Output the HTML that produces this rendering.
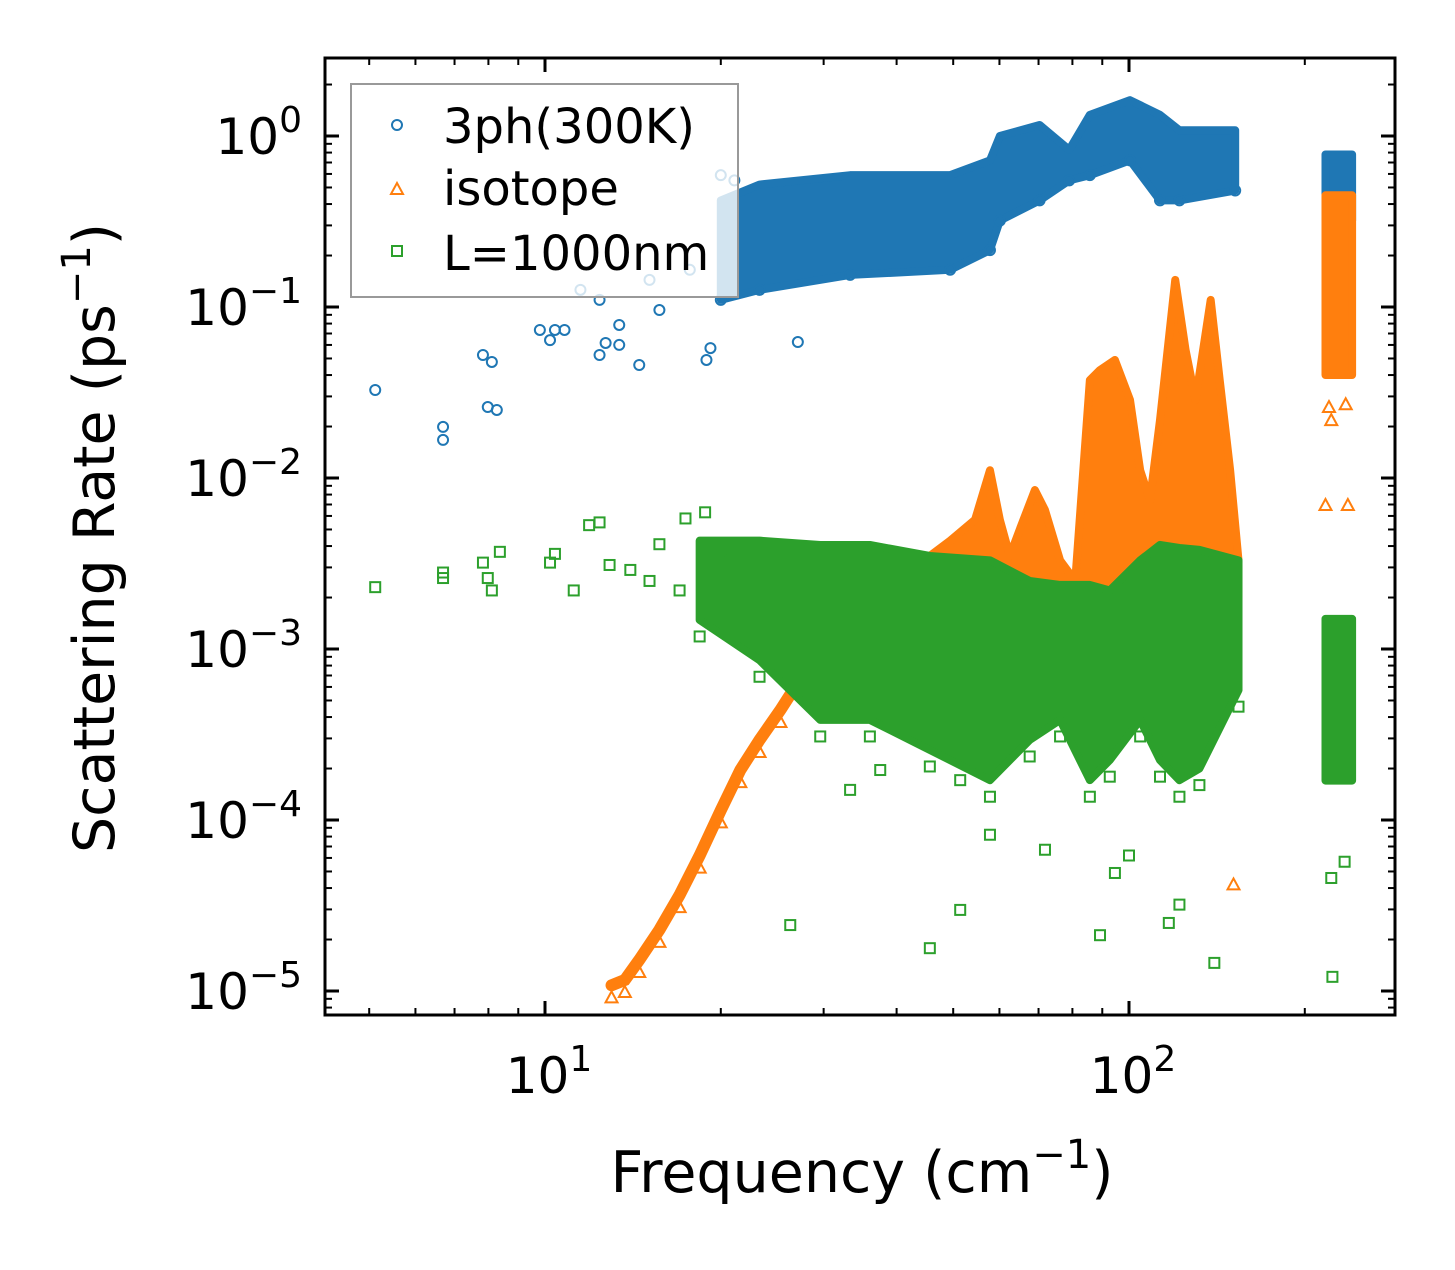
<!DOCTYPE html>
<html><head><meta charset="utf-8"><style>
html,body{margin:0;padding:0;background:#fff;}
svg text{font-family:"DejaVu Sans","Liberation Sans",sans-serif;fill:#000;}
</style></head><body>
<svg id="chart" width="1455" height="1265" viewBox="0 0 1455 1265" xmlns="http://www.w3.org/2000/svg">
<rect width="1455" height="1265" fill="#fff"/>
<defs><clipPath id="plotclip"><rect x="325" y="58" width="1070" height="957"/></clipPath></defs>
<g id="series" clip-path="url(#plotclip)"></g>
<g id="axes"></g>
<g id="legend">
  <rect x="351" y="84" width="387" height="213" fill="rgba(255,255,255,0.8)" stroke="#999" stroke-width="2"/>
  <g>
    <circle cx="397" cy="125" r="5" fill="none" stroke="#1f77b4" stroke-width="2"/>
    <text x="443" y="143" font-size="48">3ph(300K)</text>
  </g>
  <g>
    <path d="M397,183 L403,194 L391,194 Z" fill="none" stroke="#ff7f0e" stroke-width="2"/>
    <text x="443" y="205" font-size="48">isotope</text>
  </g>
  <g>
    <rect x="392" y="246" width="10" height="10" fill="none" stroke="#2ca02c" stroke-width="2"/>
    <text x="443" y="270" font-size="48">L=1000nm</text>
  </g>
</g>
<text x="862" y="1192" font-size="57" text-anchor="middle">Frequency (cm<tspan dy="-24" font-size="40">−1</tspan><tspan dy="24">)</tspan></text>
<text transform="translate(114,538) rotate(-90)" font-size="57" text-anchor="middle">Scattering Rate (ps<tspan dy="-24" font-size="40">−1</tspan><tspan dy="24">)</tspan></text>
</svg>
<script>
// ---- data ----
const blueSparseFreq = [5.12,6.69,6.69,7.83,7.98,8.11,8.27,10.2,10.4,10.8,12.4,12.7,13.4,14.5,18.9,19.2,27.1,12.4,11.5,15.1,15.7,13.4,9.8,17.7,20,21.1];
const blueSparseRate = [0.0327,0.0199,0.0167,0.0524,0.026,0.0477,0.025,0.064,0.0734,0.0734,0.0524,0.0616,0.060,0.0458,0.049,0.0575,0.0624,0.11,0.126,0.144,0.096,0.0785,0.0734,0.165,0.59,0.55];
const blueBandFreq = [20,23.3,33.3,49.4,57.8,60.1,70.3,79,85.7,100.4,113,122,152];
const blueBandLo = [0.11,0.126,0.154,0.165,0.215,0.32,0.42,0.55,0.59,0.72,0.42,0.42,0.48];
const blueBandHi = [0.42,0.52,0.59,0.59,0.72,1.0,1.16,0.83,1.33,1.62,1.33,1.08,1.08];
const blueClusterFreq = [217,241];
const blueClusterLo = [0.32,0.32];
const blueClusterHi = [0.78,0.78];

const orangeRampFreq = [13.0,13.7,14.5,15.7,17.0,18.4,20,21.6,23.3,25.3,27.3,29.6,32,36,40.5];
const orangeRampRate = [1.08e-5,1.16e-5,1.52e-5,2.28e-5,3.64e-5,6.2e-5,1.14e-4,1.96e-4,2.94e-4,4.4e-4,6.6e-4,9.9e-4,1.48e-3,2.2e-3,2.9e-3];
const orangeBandFreq = [45.6,49.4,54.5,57.8,60.1,62.5,65,69,71.8,76.2,80.9,85.7,89.2,94.6,100.4,104.5,108.6,113,120,125,130,138,143,149,154];
const orangeBandHi = [3.5e-3,4.3e-3,5.7e-3,1.11e-2,5.7e-3,3.5e-3,5.0e-3,8.5e-3,6.5e-3,3.3e-3,2.5e-3,3.74e-2,4.28e-2,4.9e-2,2.86e-2,1.11e-2,7.4e-3,2.18e-2,0.144,5.6e-2,2.86e-2,0.11,3.74e-2,1.11e-2,3.3e-3];
const orangeBandLo = 2.0e-3;
const orangeClusterFreq = [217,241];
const orangeClusterLo = [0.04,0.04];
const orangeClusterHi = [0.45,0.45];
const orangeSparseFreq = [151,217,237,222,220,235];
const orangeSparseRate = [4.2e-5,6.95e-3,6.95e-3,0.0218,0.026,0.027];

const greenSparseFreq = [5.12,6.69,6.69,7.83,7.98,8.11,8.37,10.2,10.4,11.2,11.9,12.4,12.9,14.0,15.7,17.4,18.8,17.0,15.1,20,26.3,45.6,51.4,89.2,140,223,222,234,117,122,71.8,94.6,100,57.8,51.4,37.5,33.3];
const greenSparseRate = [2.3e-3,2.8e-3,2.6e-3,3.2e-3,2.6e-3,2.2e-3,3.7e-3,3.2e-3,3.6e-3,2.2e-3,5.3e-3,5.5e-3,3.1e-3,2.9e-3,4.1e-3,5.8e-3,6.3e-3,2.2e-3,2.5e-3,3.3e-3,2.43e-5,1.78e-5,2.98e-5,2.12e-5,1.46e-5,1.21e-5,4.58e-5,5.7e-5,2.5e-5,3.2e-5,6.7e-5,4.9e-5,6.2e-5,8.2e-5,1.71e-4,1.96e-4,1.5e-4];
const greenBandFreq = [18.4,23.3,29.6,36,45.6,57.8,67.6,76.2,85.7,92.7,104.5,113,122,132,154];
const greenBandLo = [1.48e-3,8.6e-4,3.85e-4,3.85e-4,2.57e-4,1.71e-4,2.94e-4,3.85e-4,1.71e-4,2.24e-4,3.85e-4,2.24e-4,1.71e-4,2.0e-4,5.75e-4];
const greenBandHi = [4.3e-3,4.3e-3,4.06e-3,4.06e-3,3.5e-3,3.3e-3,2.5e-3,2.37e-3,2.37e-3,2.2e-3,3.3e-3,4.06e-3,3.9e-3,3.8e-3,3.3e-3];
const greenClusterFreq = [217,241];
const greenClusterLo = [1.7e-4,1.7e-4];
const greenClusterHi = [1.5e-3,1.5e-3];

const xTickValues = [10,100];
const xTickExp = ["1","2"];
const yTickValues = [1,0.1,0.01,0.001,1e-4,1e-5];
const yTickExp = ["0","−1","−2","−3","−4","−5"];

// ---- axes ----
const L=325,R=1395,T=58,B=1015;
function X(f){return 545+584*(Math.log10(f)-1);}
function Y(r){return 136-171*Math.log10(r);}
const NS="http://www.w3.org/2000/svg";
const gS=document.getElementById('series'), gA=document.getElementById('axes');
function mk(tag,attrs,parent){const e=document.createElementNS(NS,tag);for(const k in attrs)e.setAttribute(k,attrs[k]);parent.appendChild(e);return e;}

function band(freq,lo,hi,color,name){
  let top=freq.map((f,i)=>X(f)+','+Y(hi[i])), bot=freq.map((f,i)=>X(f)+','+Y(Array.isArray(lo)?lo[i]:lo)).reverse();
  const p=mk('polygon',{points:top.concat(bot).join(' '),fill:color,stroke:color,'stroke-width':8,'stroke-linejoin':'round'},gS);
  
  
}
function marker(kind,f,r,color,name){
  const x=X(f),y=Y(r);let e;
  if(kind==='c')e=mk('circle',{cx:x,cy:y,r:5,fill:'none',stroke:color,'stroke-width':2},gS);
  else if(kind==='t')e=mk('path',{d:`M${x},${y-6} L${x+6},${y+5} L${x-6},${y+5} Z`,fill:'none',stroke:color,'stroke-width':2},gS);
  else e=mk('rect',{x:x-5,y:y-5,width:10,height:10,fill:'none',stroke:color,'stroke-width':2},gS);
  
  
}
const BLUE='#1f77b4',OR='#ff7f0e',GR='#2ca02c';
// blue
band(blueBandFreq,blueBandLo,blueBandHi,BLUE,'3ph-dense-band');
band(blueClusterFreq,blueClusterLo,blueClusterHi,BLUE,'3ph-high-freq-cluster');
blueSparseFreq.forEach((f,i)=>marker('c',f,blueSparseRate[i],BLUE,'3ph-point'));
blueBandFreq.forEach((f,i)=>{marker('c',f,blueBandLo[i],BLUE,'3ph-point');});
// orange
const ramp=mk('polyline',{points:orangeRampFreq.map((f,i)=>X(f)+','+Y(orangeRampRate[i])).join(' '),fill:'none',stroke:OR,'stroke-width':12,'stroke-linecap':'round'},gS);


orangeRampFreq.forEach((f,i)=>marker('t',f,orangeRampRate[i]*0.85,OR,'isotope-point'));
band(orangeBandFreq,orangeBandLo,orangeBandHi,OR,'isotope-dense-band');
band(orangeClusterFreq,orangeClusterLo,orangeClusterHi,OR,'isotope-high-freq-cluster');
orangeSparseFreq.forEach((f,i)=>marker('t',f,orangeSparseRate[i],OR,'isotope-point'));
// green
band(greenBandFreq,greenBandLo,greenBandHi,GR,'boundary-dense-band');
band(greenClusterFreq,greenClusterLo,greenClusterHi,GR,'boundary-high-freq-cluster');
greenSparseFreq.forEach((f,i)=>marker('s',f,greenSparseRate[i],GR,'boundary-point'));
greenBandFreq.forEach((f,i)=>marker('s',f,greenBandLo[i]*0.8,GR,'boundary-point'));

// frame
const fr=mk('rect',{x:L,y:T,width:R-L,height:B-T,fill:'none',stroke:'#000','stroke-width':3},gA);


function tick(x1,y1,x2,y2,w){mk('line',{x1,y1,x2,y2,stroke:'#000','stroke-width':w},gA);}
for(let d=0;d<=2;d++){for(let m=1;m<=9;m++){const f=m*Math.pow(10,d);const x=X(f);if(x<L||x>R)continue;
  const len=m===1?14:7,w=m===1?3:2;tick(x,B,x,B-len,w);tick(x,T,x,T+len,w);}}
for(let d=-6;d<=0;d++){for(let m=1;m<=9;m++){const r=m*Math.pow(10,d);const y=Y(r);if(y<T||y>B)continue;
  const len=m===1?14:7,w=m===1?3:2;tick(L,y,L+len,y,w);tick(R,y,R-len,y,w);}}
xTickValues.forEach((v,i)=>{const t=mk('text',{x:X(v)+4,y:1093,'font-size':50,'text-anchor':'middle'},gA);
  
  
  t.innerHTML='10<tspan dy="-22" font-size="36">'+xTickExp[i]+'</tspan>';});
yTickValues.forEach((v,i)=>{const t=mk('text',{x:302,y:Y(v)+18,'font-size':50,'text-anchor':'end'},gA);
  
  
  t.innerHTML='10<tspan dy="-22" font-size="36">'+yTickExp[i]+'</tspan>';});
</script>
</body></html>
